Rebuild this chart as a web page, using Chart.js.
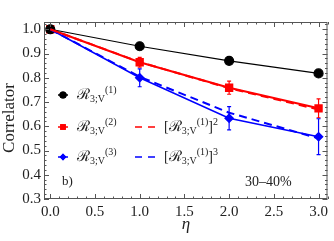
<!DOCTYPE html>
<html>
<head>
<meta charset="utf-8">
<script src="https://cdn.jsdelivr.net/npm/chart.js@4/dist/chart.umd.min.js"></script>
<style>
  html, body { margin: 0; padding: 0; background: #fff; }
  #wrap { width: 334px; height: 241px; position: relative; }
</style>
</head>
<body>
<div id="wrap"><canvas id="corrChart"></canvas></div>
<script>
// eta values and tick labels
const etaValues = [0, 1, 2, 3];
const xTicks = [0, 0.5, 1, 1.5, 2, 2.5, 3];
const yTicks = [0.3, 0.4, 0.5, 0.6, 0.7, 0.8, 0.9, 1.0];

const r1 = [1.0, 0.930, 0.870, 0.818];
const r1Err = [0, 0.004, 0.005, 0.012];
const r2 = [1.0, 0.864, 0.759, 0.674];
const r2Err = [0, 0.020, 0.027, 0.039];
const r3 = [1.0, 0.800, 0.633, 0.557];
const r3Err = [0, 0.037, 0.048, 0.074];

// factorized expectations [R1]^2 and [R1]^3
const r1Sq = [1.0, 0.865, 0.757, 0.669];
const r1Cube = [1.0, 0.804, 0.656, 0.550];

const serif = "'Liberation Serif', 'DejaVu Serif', serif";
const frameColor = '#555';

const toPoints = (vals) => vals.map((v, i) => ({ x: etaValues[i], y: v }));

// error bars drawn through the chart's own scales
const errorBars = {
    id: 'errorBars',
    afterDatasetsDraw(chart) {
        const { ctx, scales: { x, y } } = chart;
        chart.data.datasets.forEach((ds) => {
            if (!ds.errors) return;
            ctx.save();
            ctx.strokeStyle = ds.borderColor;
            ctx.lineWidth = 1.2;
            ds.data.forEach((p, i) => {
                const e = ds.errors[i];
                if (!e) return;
                const px = x.getPixelForValue(p.x);
                const top = y.getPixelForValue(p.y + e);
                const bot = y.getPixelForValue(p.y - e);
                ctx.beginPath();
                ctx.moveTo(px, top); ctx.lineTo(px, bot);
                ctx.moveTo(px - 2, top); ctx.lineTo(px + 2, top);
                ctx.moveTo(px - 2, bot); ctx.lineTo(px + 2, bot);
                ctx.stroke();
            });
            ctx.restore();
        });
    }
};

// draw text pieces with sub/superscripts
const drawRich = (ctx, x, y, parts, color) => {
    ctx.save();
    ctx.fillStyle = color || '#222';
    ctx.textBaseline = 'alphabetic';
    ctx.textAlign = 'left';
    parts.forEach(([txt, size, dy, italic]) => {
        ctx.font = (italic ? 'italic ' : '') + size + 'px ' + serif;
        ctx.fillText(txt, x, y + dy);
        x += ctx.measureText(txt).width;
    });
    ctx.restore();
};

const rLabel = (n) => [['\u211B', 15, 0], ['3;V', 10, 3], ['(' + n + ')', 10, -6]];

// frame, inward ticks, legend and texts
const framePlugin = {
    id: 'frame',
    afterDraw(chart) {
        const { ctx, chartArea: a, scales: { x, y } } = chart;
        ctx.save();
        ctx.strokeStyle = frameColor;
        ctx.lineWidth = 1;
        ctx.strokeRect(a.left + 0.5, a.top + 0.5, a.right - a.left - 1, a.bottom - a.top - 1);
        ctx.beginPath();
        for (let i = 0; i <= 31; i++) {
            const v = i / 10;
            const px = Math.round(x.getPixelForValue(v)) + 0.5;
            const len = (i % 5 === 0) ? 5 : 2.5;
            ctx.moveTo(px, a.bottom); ctx.lineTo(px, a.bottom - len);
            ctx.moveTo(px, a.top); ctx.lineTo(px, a.top + len);
        }
        for (let i = 15; i <= 51; i++) {
            const v = i / 50;
            if (v > y.max) break;
            const py = Math.round(y.getPixelForValue(v)) + 0.5;
            const len = (i % 5 === 0) ? 5 : 2.5;
            ctx.moveTo(a.left, py); ctx.lineTo(a.left + len, py);
            ctx.moveTo(a.right, py); ctx.lineTo(a.right - len, py);
        }
        ctx.stroke();
        ctx.restore();

        // axis titles
        ctx.save();
        ctx.fillStyle = '#222';
        ctx.font = '17px ' + serif;
        ctx.textAlign = 'center';
        ctx.textBaseline = 'middle';
        ctx.translate(10, 118);
        ctx.rotate(-Math.PI / 2);
        ctx.fillText('Correlator', 0, 0);
        ctx.restore();
        ctx.save();
        ctx.fillStyle = '#222';
        ctx.font = 'italic 17px ' + serif;
        ctx.textAlign = 'center';
        ctx.textBaseline = 'middle';
        ctx.fillText('\u03B7', 186, 225);
        ctx.restore();

        // legend: markers
        const rows = [
            { y: 95, color: '#000', style: 'circle', r: 3.6, n: 1 },
            { y: 127, color: '#ff0000', style: 'rect', r: 4, n: 2 },
            { y: 157, color: '#0000ff', style: 'rectRot', r: 3.4, n: 3 }
        ];
        rows.forEach(row => {
            ctx.save();
            ctx.strokeStyle = row.color;
            ctx.lineWidth = 1.5;
            ctx.beginPath();
            ctx.moveTo(58, row.y); ctx.lineTo(68, row.y);
            ctx.stroke();
            ctx.fillStyle = row.color;
            Chart.helpers.drawPoint(ctx, { pointStyle: row.style, radius: row.r, borderWidth: 0 }, 63, row.y);
            ctx.fill();
            ctx.restore();
            drawRich(ctx, 77, row.y + 4, rLabel(row.n));
        });
        // legend: dashed
        [[127, '#ff0000', '2'], [157, '#0000ff', '3']].forEach(([ly, col, p]) => {
            ctx.save();
            ctx.strokeStyle = col;
            ctx.lineWidth = 1.6;
            ctx.beginPath();
            ctx.moveTo(135, ly); ctx.lineTo(142, ly);
            ctx.moveTo(148, ly); ctx.lineTo(155, ly);
            ctx.stroke();
            ctx.restore();
            drawRich(ctx, 164, ly + 4, [['[', 14, 0]].concat(rLabel(1), [[']', 14, 0], [p, 10, -6]]));
        });

        drawRich(ctx, 62, 185, [['b)', 13, 0]]);
        drawRich(ctx, 245, 186, [['30\u201340%', 14, 0]]);
    }
};

const ctx = document.getElementById('corrChart').getContext('2d');
new Chart(ctx, {
    type: 'scatter',
    data: {
        datasets: [
            {
                label: '[R1]^2',
                data: toPoints(r1Sq),
                showLine: true,
                borderColor: '#ff0000',
                borderWidth: 2,
                borderDash: [8, 5],
                pointRadius: 0
            },
            {
                label: '[R1]^3',
                data: toPoints(r1Cube),
                showLine: true,
                borderColor: '#0000ff',
                borderWidth: 2,
                borderDash: [8, 5],
                pointRadius: 0
            },
            {
                label: 'R1',
                data: toPoints(r1),
                errors: r1Err,
                showLine: true,
                borderColor: '#000',
                backgroundColor: '#000',
                borderWidth: 1.2,
                pointStyle: 'circle',
                pointRadius: 4.5
            },
            {
                label: 'R2',
                data: toPoints(r2),
                errors: r2Err,
                showLine: true,
                borderColor: '#ff0000',
                backgroundColor: '#ff0000',
                borderWidth: 2,
                pointStyle: 'rect',
                pointRadius: 4.5
            },
            {
                label: 'R3',
                data: toPoints(r3),
                errors: r3Err,
                showLine: true,
                borderColor: '#0000ff',
                backgroundColor: '#0000ff',
                borderWidth: 1.5,
                pointStyle: 'rectRot',
                pointRadius: 4
            }
        ]
    },
    options: {
        responsive: true,
        maintainAspectRatio: false,
        animation: false,
        layout: { padding: { top: 22, right: 2, left: 0, bottom: 0 } },
        plugins: {
            legend: { display: false },
            tooltip: { enabled: false }
        },
        scales: {
            x: {
                type: 'linear',
                min: -0.07,
                max: 3.1,
                grid: { display: false, drawTicks: false },
                border: { display: false },
                afterFit: (s) => { s.height = 42; },
                afterBuildTicks: (s) => { s.ticks = xTicks.map(v => ({ value: v })); },
                ticks: {
                    padding: 4,
                    color: '#222',
                    font: { family: serif, size: 15 },
                    callback: (v) => Number(v).toFixed(1)
                }
            },
            y: {
                type: 'linear',
                min: 0.3,
                max: 1.03,
                grid: { display: false, drawTicks: false },
                border: { display: false },
                afterFit: (s) => { s.width = 44; },
                afterBuildTicks: (s) => { s.ticks = yTicks.map(v => ({ value: v })); },
                ticks: {
                    padding: 3,
                    color: '#222',
                    font: { family: serif, size: 15 },
                    callback: (v) => Number(v).toFixed(1)
                }
            }
        }
    },
    plugins: [errorBars, framePlugin]
});
</script>
</body>
</html>
